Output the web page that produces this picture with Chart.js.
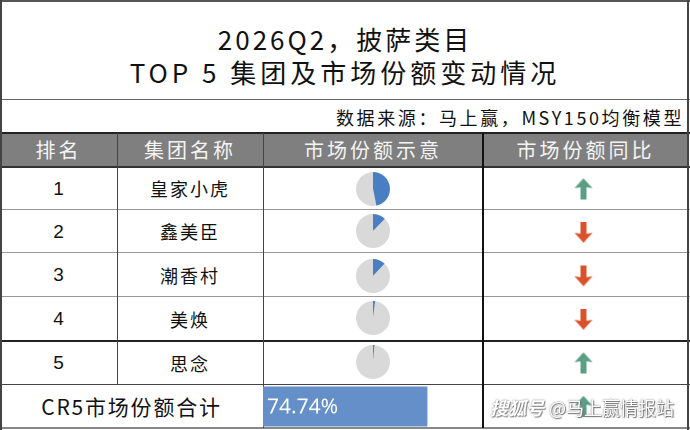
<!DOCTYPE html>
<html><head><meta charset="utf-8">
<script src="https://cdn.jsdelivr.net/npm/chart.js@4.4.1/dist/chart.umd.min.js"></script>
<style>
html,body{margin:0;padding:0;background:#fff;}
#wrap{position:absolute;left:0;top:0;width:690px;height:430px;background:#fff;overflow:hidden;font-family:"Noto Sans CJK SC","Noto Sans",sans-serif;}
.t{position:absolute;white-space:nowrap;text-align:center;color:#111;}
.hl{position:absolute;height:0;}
.vl{position:absolute;width:0;}
canvas{position:absolute;}
</style></head><body>
<div id="wrap"></div>
<script>
// ---- data ----
const titleLines = ["2026Q2，披萨类目", "TOP 5 集团及市场份额变动情况"];
const sourceText = "数据来源：马上赢，MSY150均衡模型";
const headers = ["排名", "集团名称", "市场份额示意", "市场份额同比"];
const ranks = ["1", "2", "3", "4", "5"];
const groups = ["皇家小虎", "鑫美臣", "潮香村", "美焕", "思念"];
const shares = [46.9, 12.3, 12.0, 2.1, 1.44];
const trends = ["up", "down", "down", "down", "up"];
const totalLabel = "CR5市场份额合计";
const totalShare = 74.74;
const totalTrend = "up";

// ---- layout ----
const W = document.getElementById('wrap');
const colX = [0, 117, 263, 483, 688];
const rowY = [167, 210, 253, 297, 341, 385, 428];
const pieCY = [189, 231, 276, 318, 362];
function el(tag, cls, css, txt){const e=document.createElement(tag); if(cls)e.className=cls; Object.assign(e.style,css); if(txt!==undefined)e.textContent=txt; W.appendChild(e); return e;}
function hline(y,x1,x2,c,w){el('div','hl',{left:x1+'px',top:(y-w/2)+'px',width:(x2-x1)+'px',borderTop:w+'px solid '+c});}
function vline(x,y1,y2,c,w){el('div','vl',{left:(x-w/2)+'px',top:y1+'px',height:(y2-y1)+'px',borderLeft:w+'px solid '+c});}

// header fill
el('div','',{position:'absolute',left:'0px',top:'133px',width:'688px',height:'34px',background:'#7f7f7f'});

// title
const tf = '"Liberation Sans Narrow","Noto Sans CJK SC",sans-serif';
el('div','t',{left:'0px',width:'690px',top:'22px',fontSize:'26px',lineHeight:'34px',letterSpacing:'3px',fontFamily:tf},titleLines[0]);
el('div','t',{left:'0px',width:'690px',top:'55px',fontSize:'26px',lineHeight:'34px',letterSpacing:'4px',fontFamily:tf},titleLines[1]);
el('div','t',{left:'300px',width:'384px',top:'104px',fontSize:'18px',lineHeight:'26px',letterSpacing:'2.6px',textAlign:'right',fontFamily:tf},sourceText);

// headers
headers.forEach((h,i)=>{
  el('div','t',{left:colX[i]+'px',width:(colX[i+1]-colX[i])+'px',top:'135px',lineHeight:'30px',fontSize:'20px',color:'#f4f4f4',letterSpacing:'3px'},h);
});
// body
ranks.forEach((r,i)=>{
  const top=rowY[i], h=rowY[i+1]-rowY[i];
  el('div','t',{left:'0px',width:'117px',top:top+'px',lineHeight:h+'px',fontSize:'19px',fontFamily:'"Liberation Sans","Noto Sans",sans-serif'},r);
  el('div','t',{left:'117px',width:'146px',top:top+'px',lineHeight:h+'px',fontSize:'18px',letterSpacing:'2px'},groups[i]);
});
el('div','t',{left:'0px',width:'263px',top:'385px',lineHeight:'43px',fontSize:'21px',letterSpacing:'1.8px',fontFamily:tf},totalLabel);

// grid lines
hline(1,0,690,'#555',2);
hline(100,0,690,'#666',1.5);
hline(133,0,690,'#222',2);
hline(167,0,690,'#333',2);
hline(210,0,690,'#999',1.5);
hline(253,0,690,'#999',1.5);
hline(297,0,690,'#999',1.5);
hline(341,0,690,'#222',2);
hline(385,0,690,'#444',1.5);
hline(428,0,690,'#888',2);
vline(1,0,430,'#444',2);
vline(688,0,430,'#444',2);
vline(117,133,385,'#444',1);
vline(263,133,428,'#444',1);
vline(483,133,428,'#111',2);

// pies
shares.forEach((s,i)=>{
  const c=document.createElement('canvas');
  c.width=40;c.height=40;
  Object.assign(c.style,{left:(373-20)+'px',top:(pieCY[i]-20)+'px',width:'40px',height:'40px'});
  W.appendChild(c);
  new Chart(c,{type:'pie',data:{labels:['share','other'],datasets:[{data:[s,100-s],backgroundColor:['#4a7ec3','#d9d9d9'],borderWidth:0}]},
    options:{responsive:false,animation:false,devicePixelRatio:2,layout:{padding:3},plugins:{legend:{display:false},tooltip:{enabled:false}}}});
});

// CR5 bar
(function(){
  const c=document.createElement('canvas');
  c.width=220;c.height=43;
  Object.assign(c.style,{left:'263px',top:'385px',width:'220px',height:'43px'});
  W.appendChild(c);
  const lbl={id:'lbl',afterDatasetsDraw(ch){const ctx=ch.ctx;const m=ch.getDatasetMeta(0).data[0];ctx.save();ctx.fillStyle='#fff';ctx.font='21px "Liberation Sans Narrow","Noto Sans",sans-serif';ctx.textBaseline='middle';ctx.textAlign='left';ctx.fillText(totalShare.toFixed(2)+'%',ch.chartArea.left+4,m.y+1);ctx.restore();}};
  new Chart(c,{type:'bar',data:{labels:['CR5'],datasets:[{data:[totalShare],backgroundColor:'#648fc8',borderWidth:0,barPercentage:1,categoryPercentage:0.93}]},
    options:{indexAxis:'y',responsive:false,animation:false,devicePixelRatio:2,layout:{padding:0,autoPadding:false},
      scales:{x:{display:false,min:0,max:100},y:{display:false}},plugins:{legend:{display:false},tooltip:{enabled:false}}},plugins:[lbl]});
})();

// arrows
function arrowImg(dir){
  const cv=document.createElement('canvas');cv.width=18;cv.height=21;const x=cv.getContext('2d');
  x.fillStyle = dir==='up' ? '#5a9e83' : '#d9522c';
  x.beginPath();
  if(dir==='up'){x.moveTo(9,0);x.lineTo(18,10);x.lineTo(12,9);x.lineTo(12,21);x.lineTo(6,21);x.lineTo(6,9);x.lineTo(0,10);}
  else{x.moveTo(9,21);x.lineTo(18,11);x.lineTo(12,12);x.lineTo(12,0);x.lineTo(6,0);x.lineTo(6,12);x.lineTo(0,11);}
  x.closePath();x.fill();return cv;
}
(function(){
  const all=trends.concat([totalTrend]);
  const c=document.createElement('canvas');
  c.width=205;c.height=261;
  Object.assign(c.style,{left:'483px',top:'167px',width:'205px',height:'261px'});
  W.appendChild(c);
  new Chart(c,{type:'scatter',data:{datasets:[{data:all.map((d,i)=>({x:0.5,y:i})),pointStyle:all.map(arrowImg),pointRadius:10}]},
    options:{responsive:false,animation:false,devicePixelRatio:2,layout:{padding:0,autoPadding:false},
      scales:{x:{display:false,min:0.01,max:1.01},y:{display:false,min:-0.5,max:5.5,reverse:true}},plugins:{legend:{display:false},tooltip:{enabled:false}}}});
})();

// watermark
el('div','t',{left:'490px',top:'394px',fontSize:'18px',lineHeight:'26px',color:'#fff',textAlign:'left',fontStyle:'italic',fontWeight:'bold',textShadow:'0 0 2px #777, 1px 1px 1px #888'},'搜狐号');
el('div','t',{left:'549px',top:'394px',fontSize:'18px',lineHeight:'26px',color:'#fff',textAlign:'left',textShadow:'0 0 2px #666, 1px 1px 1px #777'},'@马上赢情报站');
</script>
</body></html>
